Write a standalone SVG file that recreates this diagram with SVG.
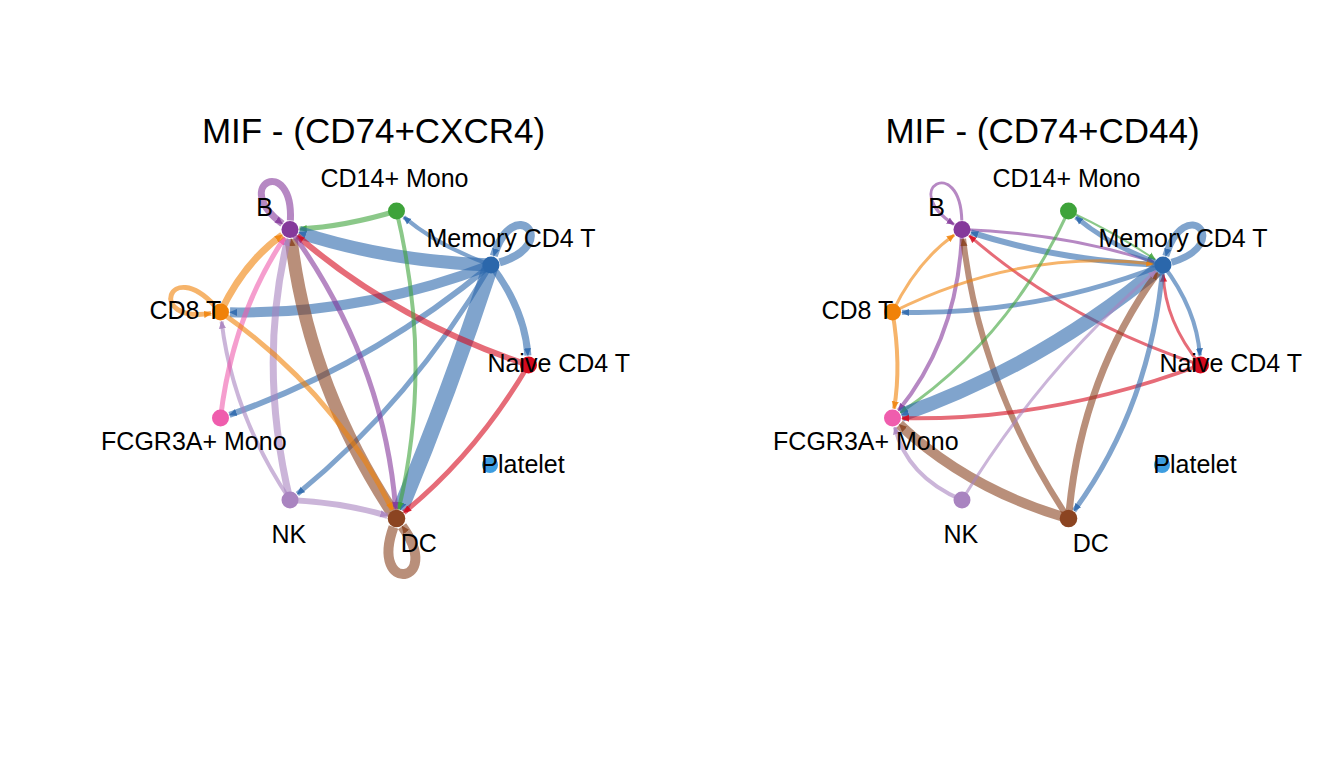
<svg xmlns="http://www.w3.org/2000/svg" width="1344" height="768" viewBox="0 0 1344 768">
<style>
.ttl{font-family:"Liberation Sans",Arial,Helvetica,sans-serif;font-size:35px;fill:#000;text-anchor:middle}
.lbl{font-family:"Liberation Sans",Arial,Helvetica,sans-serif;font-size:25px;fill:#000}
.e{fill:none;stroke-opacity:0.6;stroke-linecap:butt}
.blue{stroke:#2B67AB;marker-end:url(#m-blue)}
.red{stroke:#D50A1E;marker-end:url(#m-red)}
.green{stroke:#3EA33A;marker-end:url(#m-green)}
.purple{stroke:#85399B;marker-end:url(#m-purple)}
.orange{stroke:#F08209;marker-end:url(#m-orange)}
.pink{stroke:#EF5DAD;marker-end:url(#m-pink)}
.lpurple{stroke:#A984C0;marker-end:url(#m-lpurple)}
.brown{stroke:#8B4421;marker-end:url(#m-brown)}
</style>
<defs>
<marker id="m-blue" viewBox="0 0 10 10" refX="9" refY="5" markerWidth="8" markerHeight="8" markerUnits="userSpaceOnUse" orient="auto"><path d="M0,0.5 L10,5 L0,9.5 z" fill="#2B67AB" fill-opacity="0.85"/></marker>
<marker id="m-red" viewBox="0 0 10 10" refX="9" refY="5" markerWidth="8" markerHeight="8" markerUnits="userSpaceOnUse" orient="auto"><path d="M0,0.5 L10,5 L0,9.5 z" fill="#D50A1E" fill-opacity="0.85"/></marker>
<marker id="m-green" viewBox="0 0 10 10" refX="9" refY="5" markerWidth="8" markerHeight="8" markerUnits="userSpaceOnUse" orient="auto"><path d="M0,0.5 L10,5 L0,9.5 z" fill="#3EA33A" fill-opacity="0.85"/></marker>
<marker id="m-purple" viewBox="0 0 10 10" refX="9" refY="5" markerWidth="8" markerHeight="8" markerUnits="userSpaceOnUse" orient="auto"><path d="M0,0.5 L10,5 L0,9.5 z" fill="#85399B" fill-opacity="0.85"/></marker>
<marker id="m-orange" viewBox="0 0 10 10" refX="9" refY="5" markerWidth="8" markerHeight="8" markerUnits="userSpaceOnUse" orient="auto"><path d="M0,0.5 L10,5 L0,9.5 z" fill="#F08209" fill-opacity="0.85"/></marker>
<marker id="m-pink" viewBox="0 0 10 10" refX="9" refY="5" markerWidth="8" markerHeight="8" markerUnits="userSpaceOnUse" orient="auto"><path d="M0,0.5 L10,5 L0,9.5 z" fill="#EF5DAD" fill-opacity="0.85"/></marker>
<marker id="m-lpurple" viewBox="0 0 10 10" refX="9" refY="5" markerWidth="8" markerHeight="8" markerUnits="userSpaceOnUse" orient="auto"><path d="M0,0.5 L10,5 L0,9.5 z" fill="#A984C0" fill-opacity="0.85"/></marker>
<marker id="m-brown" viewBox="0 0 10 10" refX="9" refY="5" markerWidth="8" markerHeight="8" markerUnits="userSpaceOnUse" orient="auto"><path d="M0,0.5 L10,5 L0,9.5 z" fill="#8B4421" fill-opacity="0.85"/></marker>
</defs>
<rect width="1344" height="768" fill="#ffffff"/>

<g id="plot-cxcr4">
<text class="ttl" x="373.5" y="143.3">MIF - (CD74+CXCR4)</text>
<g id="cxcr4-connectors">
<path class="e purple" stroke-width="7" d="M290.4,220.5 C293.5,154.1 229.4,184.4 282.4,223.8"/>
<path class="e green" stroke-width="5" d="M396.5,211 Q344.35,226.65 299.5,229"/>
<path class="e blue" stroke-width="13" d="M491,265 Q388,261.35 299,232.4"/>
<path class="e blue" stroke-width="10" d="M491,265 Q360.45,315.55 230,312.2"/>
<path class="e blue" stroke-width="6" d="M491,265 Q369.55,365.8 229.5,414.9"/>
<path class="e blue" stroke-width="5" d="M491,265 Q411.65,400.6 297.4,494"/>
<path class="e blue" stroke-width="16" d="M491,265 Q448.85,393.65 400.2,509.7"/>
<path class="e blue" stroke-width="7" d="M491,265 Q524.75,309.4 527.9,355.5"/>
<path class="e blue" stroke-width="4" d="M491,265 Q438.85,246.5 403.8,217.1"/>
<path class="e blue" stroke-width="8" d="M499.6,262.4 C563.2,242.9 513.1,192.8 493.8,255.9"/>
<path class="e red" stroke-width="6" d="M528.5,365 Q395.7,321.1 297.2,235.7"/>
<path class="e red" stroke-width="5" d="M528.5,365 Q476.3,453.65 403.9,512.5"/>
<path class="e green" stroke-width="4" d="M396.5,211 Q433.4,364.75 398.7,509.3"/>
<path class="e brown" stroke-width="13" d="M396.5,518.5 Q308.55,386.8 291.1,238.9"/>
<path class="e purple" stroke-width="5" d="M290,229.5 Q383.75,359.1 395.7,509"/>
<path class="e lpurple" stroke-width="7" d="M290,500 Q257.5,364.75 287.8,238.7"/>
<path class="e lpurple" stroke-width="4" d="M290,500 Q232.65,414.3 221.6,321.4"/>
<path class="e lpurple" stroke-width="6" d="M290,500 Q344.35,502.85 387.4,515.8"/>
<path class="e pink" stroke-width="5" d="M220.5,418 Q232.65,315.45 284.7,237.4"/>
<path class="e orange" stroke-width="7" d="M220.5,312 Q244.55,261.75 282.2,235"/>
<path class="e orange" stroke-width="5" d="M214.4,305.4 C169.2,256.6 145.8,323.5 211.1,313.4"/>
<path class="e orange" stroke-width="5" d="M220.5,312 Q335.3,392.35 392.3,509.9"/>
<path class="e brown" stroke-width="10" d="M393.5,527 C369,595.3 444.7,584.3 402.1,526.2"/>
</g>
<g id="cxcr4-node-b"><circle cx="290" cy="229.5" r="8.5" fill="#85399B"/><text class="lbl" x="256.3" y="216">B</text></g>
<g id="cxcr4-node-cd14-mono"><circle cx="396.5" cy="211" r="8.5" fill="#3EA33A"/><text class="lbl" x="320.5" y="186.7">CD14+ Mono</text></g>
<g id="cxcr4-node-memory-cd4-t"><circle cx="491" cy="265" r="8.5" fill="#2B67AB"/><text class="lbl" x="426.5" y="247.3">Memory CD4 T</text></g>
<g id="cxcr4-node-naive-cd4-t"><circle cx="528.5" cy="365" r="8.5" fill="#D50A1E"/><text class="lbl" x="487.4" y="372.3">Naive CD4 T</text></g>
<g id="cxcr4-node-platelet"><circle cx="490" cy="465" r="8" fill="#3D9DE0"/><text class="lbl" x="481.3" y="473.3">Platelet</text></g>
<g id="cxcr4-node-dc"><circle cx="396.5" cy="518.5" r="8.8" fill="#8B4421"/><text class="lbl" x="400.7" y="551.7">DC</text></g>
<g id="cxcr4-node-nk"><circle cx="290" cy="500" r="8.5" fill="#A984C0"/><text class="lbl" x="271.4" y="542.7">NK</text></g>
<g id="cxcr4-node-fcgr3a-mono"><circle cx="220.5" cy="418" r="8.5" fill="#EF5DAD"/><text class="lbl" x="101.1" y="450">FCGR3A+ Mono</text></g>
<g id="cxcr4-node-cd8-t"><circle cx="220.5" cy="312" r="8.5" fill="#F08209"/><text class="lbl" x="149.5" y="319.3">CD8 T</text></g>
</g>

<g id="plot-cd44" transform="translate(672,0)">
<text class="ttl" x="370.5" y="143.3">MIF - (CD74+CD44)</text>
<g id="cd44-connectors">
<path class="e purple" stroke-width="3" d="M289.8,220.5 C288.1,154.2 226.5,188.9 282,224.4"/>
<path class="e purple" stroke-width="3" d="M290,229.5 Q393,233.15 482,262.1"/>
<path class="e blue" stroke-width="6" d="M491,265 Q388,261.35 299,232.4"/>
<path class="e red" stroke-width="3" d="M528.5,365 Q395.7,321.1 297.2,235.7"/>
<path class="e orange" stroke-width="3" d="M220.5,312 Q244.55,261.75 282.2,235"/>
<path class="e purple" stroke-width="4" d="M290,229.5 Q287.25,335.55 226.5,410.6"/>
<path class="e brown" stroke-width="6" d="M396.5,518.5 Q308.55,386.8 291.1,238.9"/>
<path class="e blue" stroke-width="5" d="M491,265 Q360.45,315.55 230,312.2"/>
<path class="e orange" stroke-width="3" d="M220.5,312 Q348.7,247.9 481.6,263.9"/>
<path class="e orange" stroke-width="4" d="M220.5,312 Q229.5,365 222.1,408.6"/>
<path class="e green" stroke-width="2" d="M396.5,211 Q445.95,234.2 483.2,259.6"/>
<path class="e blue" stroke-width="5" d="M491,265 Q438.85,246.5 403.8,217.1"/>
<path class="e green" stroke-width="3" d="M396.5,211 Q337.5,339.1 228.4,412.7"/>
<path class="e blue" stroke-width="14" d="M491,265 Q369.55,365.8 229.5,414.9"/>
<path class="e blue" stroke-width="7" d="M499.6,262.4 C563.2,242.9 513.1,192.8 493.8,255.9"/>
<path class="e blue" stroke-width="4" d="M491,265 Q524.75,309.4 527.9,355.5"/>
<path class="e red" stroke-width="3" d="M528.5,365 Q492.75,321.4 491.3,274.5"/>
<path class="e red" stroke-width="4" d="M528.5,365 Q379.5,420.8 230,418.2"/>
<path class="e blue" stroke-width="5" d="M491,265 Q479.25,405 402.1,510.8"/>
<path class="e brown" stroke-width="7" d="M396.5,518.5 Q408.25,378.55 485.4,272.7"/>
<path class="e brown" stroke-width="10" d="M396.5,518.5 Q296.45,489.35 227.4,424.5"/>
<path class="e lpurple" stroke-width="4" d="M290,500 Q234.75,476.4 222.8,427.2"/>
<path class="e lpurple" stroke-width="3" d="M290,500 Q371.7,366.4 483.8,271.2"/>
</g>
<g id="cd44-node-b"><circle cx="290" cy="229.5" r="8.5" fill="#85399B"/><text class="lbl" x="256.3" y="216">B</text></g>
<g id="cd44-node-cd14-mono"><circle cx="396.5" cy="211" r="8.5" fill="#3EA33A"/><text class="lbl" x="320.5" y="186.7">CD14+ Mono</text></g>
<g id="cd44-node-memory-cd4-t"><circle cx="491" cy="265" r="8.5" fill="#2B67AB"/><text class="lbl" x="426.5" y="247.3">Memory CD4 T</text></g>
<g id="cd44-node-naive-cd4-t"><circle cx="528.5" cy="365" r="8.5" fill="#D50A1E"/><text class="lbl" x="487.4" y="372.3">Naive CD4 T</text></g>
<g id="cd44-node-platelet"><circle cx="490" cy="465" r="8" fill="#3D9DE0"/><text class="lbl" x="481.3" y="473.3">Platelet</text></g>
<g id="cd44-node-dc"><circle cx="396.5" cy="518.5" r="8.8" fill="#8B4421"/><text class="lbl" x="400.7" y="551.7">DC</text></g>
<g id="cd44-node-nk"><circle cx="290" cy="500" r="8.5" fill="#A984C0"/><text class="lbl" x="271.4" y="542.7">NK</text></g>
<g id="cd44-node-fcgr3a-mono"><circle cx="220.5" cy="418" r="8.5" fill="#EF5DAD"/><text class="lbl" x="101.1" y="450">FCGR3A+ Mono</text></g>
<g id="cd44-node-cd8-t"><circle cx="220.5" cy="312" r="8.5" fill="#F08209"/><text class="lbl" x="149.5" y="319.3">CD8 T</text></g>
</g>
</svg>
